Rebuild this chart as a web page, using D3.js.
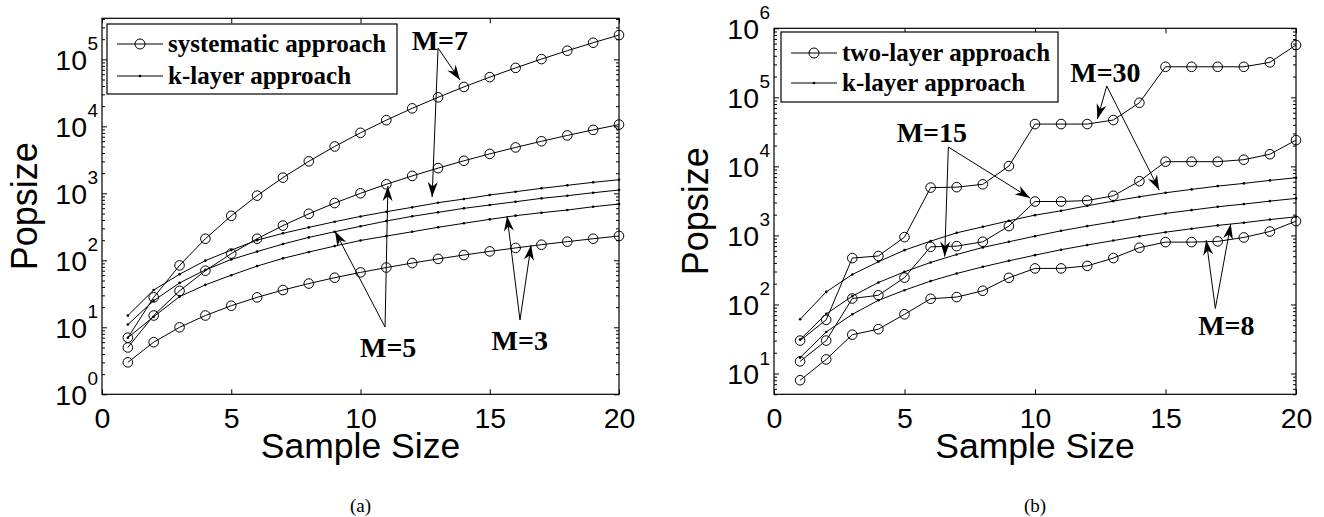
<!DOCTYPE html>
<html><head><meta charset="utf-8">
<script src="https://cdn.jsdelivr.net/npm/d3@7"></script>
<style>body{margin:0;background:#fff}svg{display:block}</style>
</head><body>
<svg id="c" width="1324" height="517"></svg>
<script>
// ---------- data ----------
const sampleSizes = [1,2,3,4,5,6,7,8,9,10,11,12,13,14,15,16,17,18,19,20];
const xTicks = [0,5,10,15,20];
const leftYExps = [0,1,2,3,4,5];
const rightYExps = [1,2,3,4,5,6];

// panel (a)
const sysM7 = [7,28,84,210,462,924,1716,3003,5005,8008,12376,18564,27132,38760,54264,74613,100947,134596,177100,230230];
const sysM5 = [5,15,35,70,126,210,330,495,715,1001,1365,1820,2380,3060,3876,4845,5985,7315,8855,10626];
const sysM3 = [3,6,10,15,21,28,36,45,55,66,78,91,105,120,136,153,171,190,210,231];
const kM7 = [15,36,62,99,142,200,253,310,377,452,532,618,725,822,944,1058,1188,1316,1459,1597];
const kM5 = [11,25,46,72,103,135,175,220,267,322,386,454,520,597,669,750,841,922,1021,1120];
const kM3 = [7,14.4,28.7,43,60,82,107,133,163,198,230,267,311,357,409,464,514,563,631,692];

// panel (b)
const twoM30 = [30,60,470,504,945,4930,5000,5500,10100,41000,41000,41000,46900,83500,277000,277000,277000,277000,321000,573000];
const twoM15 = [15,30,122,136,245,684,700,809,1366,3100,3100,3200,3750,6100,11700,11700,11700,12500,15000,24000];
const twoM8  = [8,16,36.5,43.9,72,121,128,158,243,333,333,362,470,665,800,800,820,935,1140,1610];
const kM30 = [61,152,272,415,612,826,1091,1333,1629,1968,2275,2687,3140,3630,4150,4645,5180,5670,6270,6840];
const kM15 = [31,73,132,208,297,406,530,670,809,977,1167,1364,1576,1823,2083,2328,2600,2843,3140,3437];
const kM8  = [17,40,72,115,161,218,281,351,429,518,621,726,843,975,1114,1252,1398,1528,1697,1860];

// annotations in data coordinates [sample size, popsize]
const annA = [
  {label:"M=7", text:[11.98,137700], origin:[13.0,147600], targets:[[13.85,49100],[12.77,881]]},
  {label:"M=5", text:[9.98,3.64], origin:[10.95,10.1], targets:[[9.01,273.5],[11.06,1285]]},
  {label:"M=3", text:[15.07,4.58], origin:[16.17,12.85], targets:[[15.67,457],[16.6,169]]}
];
const annB = [
  {label:"M=30", text:[11.35,168000], origin:[12.75,146000], targets:[[12.39,48500],[14.76,4540]]},
  {label:"M=15", text:[4.70,22750], origin:[6.68,19050], targets:[[6.54,493],[9.81,3475]]},
  {label:"M=8", text:[16.25,35.9], origin:[16.91,87.5], targets:[[16.56,855],[17.5,1459]]}
];

// ---------- drawing ----------
const svg = d3.select('#c');
const SANS = '"Liberation Sans", Arial, Helvetica, sans-serif';
const SERIF = '"Liberation Serif", "Times New Roman", Times, serif';

function panel(cfg){
  const x = d3.scaleLinear().domain([0,20]).range([cfg.x0,cfg.x1]);
  const y = d3.scaleLog().domain(cfg.yDomain).range([cfg.y1,cfg.y0]);
  const g = svg.append('g');

  const majors = cfg.yExps.map(e => Math.pow(10,e));
  const minors = [];
  const lo = Math.floor(Math.log10(cfg.yDomain[0])), hi = Math.ceil(Math.log10(cfg.yDomain[1]));
  for (let e=lo; e<hi; e++) for (let m=2; m<=9; m++){
    const v = m*Math.pow(10,e);
    if (v>=cfg.yDomain[0] && v<=cfg.yDomain[1]) minors.push(v);
  }
  const styleAxis = sel => { sel.select('.domain').remove(); sel.selectAll('line').attr('stroke','#000').attr('stroke-width',1); };
  g.append('g').attr('transform',`translate(${cfg.x0},0)`).call(d3.axisLeft(y).tickValues(majors).tickSize(-5).tickFormat('')).call(styleAxis);
  g.append('g').attr('transform',`translate(${cfg.x0},0)`).call(d3.axisLeft(y).tickValues(minors).tickSize(-3).tickFormat('')).call(styleAxis);
  g.append('g').attr('transform',`translate(${cfg.x1},0)`).call(d3.axisRight(y).tickValues(majors).tickSize(-5).tickFormat('')).call(styleAxis);
  g.append('g').attr('transform',`translate(${cfg.x1},0)`).call(d3.axisRight(y).tickValues(minors).tickSize(-3).tickFormat('')).call(styleAxis);
  const xb = g.append('g').attr('transform',`translate(0,${cfg.y1})`)
    .call(d3.axisBottom(x).tickValues(xTicks).tickSize(-5).tickPadding(13).tickFormat(d3.format('d')))
    .call(styleAxis);
  xb.selectAll('text').attr('font-family',SANS).attr('font-size',28.5).attr('fill','#000');
  g.append('g').attr('transform',`translate(0,${cfg.y0})`)
    .call(d3.axisTop(x).tickValues(xTicks).tickSize(-5).tickFormat('')).call(styleAxis);

  const yl = g.append('g');
  cfg.yExps.forEach(e => {
    const v = Math.pow(10,e);
    yl.append('text').attr('x',cfg.x0-15).attr('y',y(v)+10.5).attr('text-anchor','end')
      .attr('font-family',SANS).attr('font-size',28.5).text('10');
    yl.append('text').attr('x',cfg.x0-14.5).attr('y',y(v)-9).attr('text-anchor','start')
      .attr('font-family',SANS).attr('font-size',19).text(String(e));
  });

  g.append('rect').attr('x',cfg.x0).attr('y',cfg.y0).attr('width',cfg.x1-cfg.x0).attr('height',cfg.y1-cfg.y0)
    .attr('fill','none').attr('stroke','#000').attr('stroke-width',1.2);

  const line = d3.line().x((d,i)=>x(sampleSizes[i])).y(d=>y(d));
  cfg.kSeries.forEach(s => {
    g.append('path').attr('d',line(s)).attr('fill','none').attr('stroke','#000').attr('stroke-width',1);
    g.selectAll(null).data(s).enter().append('circle')
      .attr('cx',(d,i)=>x(sampleSizes[i])).attr('cy',d=>y(d)).attr('r',1.3).attr('fill','#000');
  });
  cfg.circleSeries.forEach(s => {
    g.append('path').attr('d',line(s)).attr('fill','none').attr('stroke','#000').attr('stroke-width',1);
    g.selectAll(null).data(s).enter().append('circle')
      .attr('cx',(d,i)=>x(sampleSizes[i])).attr('cy',d=>y(d)).attr('r',4.8)
      .attr('fill','none').attr('stroke','#000').attr('stroke-width',1);
  });

  cfg.ann.forEach(a => {
    const ox = x(a.origin[0]), oy = y(a.origin[1]);
    a.targets.forEach(t => {
      const tx = x(t[0]), ty = y(t[1]);
      g.append('line').attr('x1',ox).attr('y1',oy).attr('x2',tx).attr('y2',ty).attr('stroke','#000').attr('stroke-width',1);
      const ang = Math.atan2(ty-oy, tx-ox);
      const L = 15, W = 5, N = 10.5;
      const ca = Math.cos(ang), sa = Math.sin(ang);
      const p = (along, perp) => [tx - along*ca - perp*sa, ty - along*sa + perp*ca];
      const pts = [p(0,0), p(L,W), p(N,0), p(L,-W)];
      g.append('path').attr('d','M'+pts.map(q=>q.join(',')).join('L')+'Z').attr('fill','#000');
    });
    g.append('text').attr('x',x(a.text[0])).attr('y',y(a.text[1]))
      .attr('font-family',SERIF).attr('font-weight','bold').attr('font-size',28).text(a.label);
  });

  const L = cfg.legend;
  const lg = g.append('g');
  lg.append('rect').attr('x',L.x).attr('y',L.y).attr('width',L.w).attr('height',L.h)
    .attr('fill','#fff').attr('stroke','#000').attr('stroke-width',1.2);
  L.labels.forEach((lab,i) => {
    const cy = L.y + L.rows[i];
    lg.append('line').attr('x1',L.x+10).attr('x2',L.x+56).attr('y1',cy).attr('y2',cy).attr('stroke','#000').attr('stroke-width',1);
    if (i===0) lg.append('circle').attr('cx',L.x+33).attr('cy',cy).attr('r',5).attr('fill','none').attr('stroke','#000');
    else lg.append('circle').attr('cx',L.x+33).attr('cy',cy).attr('r',1.3).attr('fill','#000');
    lg.append('text').attr('x',L.x+61).attr('y',cy+8).attr('font-family',SERIF).attr('font-weight','bold')
      .attr('font-size',25).text(lab);
  });

  g.append('text').attr('x',(cfg.x0+cfg.x1)/2).attr('y',458).attr('text-anchor','middle')
    .attr('font-family',SANS).attr('font-size',35.5).text('Sample Size');
  g.append('text').attr('transform',`translate(${cfg.ylabX},${(cfg.y0+cfg.y1)/2}) rotate(-90)`).attr('text-anchor','middle')
    .attr('font-family',SANS).attr('font-size',36).text('Popsize');
  g.append('text').attr('x',(cfg.x0+cfg.x1)/2).attr('y',512).attr('text-anchor','middle')
    .attr('font-family',SERIF).attr('font-size',19).text(cfg.caption);
}

panel({x0:102, x1:619, y0:18.3, y1:394.3, yDomain:[1,4.1e5], yExps:leftYExps,
  circleSeries:[sysM7,sysM5,sysM3], kSeries:[kM7,kM5,kM3], ann:annA, ylabX:37, caption:'(a)',
  legend:{x:107,y:24,w:290,h:70,rows:[20,52],labels:['systematic approach','k-layer approach']}});
panel({x0:774, x1:1296, y0:28.3, y1:394.3, yDomain:[5,1e6], yExps:rightYExps,
  circleSeries:[twoM30,twoM15,twoM8], kSeries:[kM30,kM15,kM8], ann:annB, ylabX:708, caption:'(b)',
  legend:{x:781,y:32,w:277,h:70,rows:[21,51],labels:['two-layer approach','k-layer approach']}});
</script>
</body></html>
